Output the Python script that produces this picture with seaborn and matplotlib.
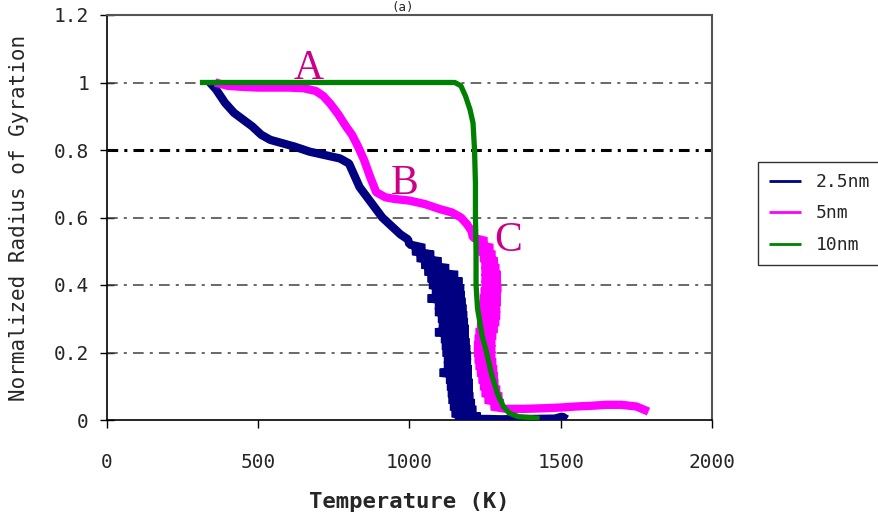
import numpy as np
import pandas as pd
import matplotlib
matplotlib.use("Agg")
import matplotlib.pyplot as plt
import seaborn as sns

# values (the noisy lower parts are traced
# as a back-and-forth path between the left and right edge of the band)
t_25 = [340, 360, 390, 420, 450, 480, 510, 540, 580, 620, 670, 720, 770, 800, 815, 835, 860, 885,
        910, 940, 970, 995,
        1000, 1050, 1010, 1080, 1025, 1105, 1040, 1130, 1050, 1160, 1060, 1175, 1065, 1180,
        1075, 1182, 1060, 1185, 1085, 1188, 1085, 1190, 1095, 1192, 1098, 1195, 1085, 1195,
        1105, 1198, 1108, 1200, 1110, 1202, 1115, 1202, 1115, 1205, 1100, 1205, 1122, 1208,
        1125, 1208, 1128, 1210, 1130, 1215, 1135, 1220, 1140, 1235, 1150, 1245,
        1260, 1300, 1400, 1480, 1505, 1520]
r_25 = [1.0, 0.98, 0.94, 0.91, 0.89, 0.87, 0.845, 0.83, 0.82, 0.81, 0.795, 0.785, 0.775, 0.76, 0.73,
        0.69, 0.66, 0.63, 0.60, 0.575, 0.55, 0.535,
        0.52, 0.51, 0.50, 0.49, 0.48, 0.47, 0.46, 0.45, 0.44, 0.43, 0.42, 0.41, 0.40, 0.39,
        0.38, 0.37, 0.36, 0.35, 0.34, 0.33, 0.32, 0.31, 0.30, 0.29, 0.28, 0.27, 0.26, 0.25,
        0.24, 0.23, 0.22, 0.21, 0.20, 0.19, 0.18, 0.17, 0.16, 0.15, 0.14, 0.13, 0.12, 0.11,
        0.10, 0.09, 0.08, 0.07, 0.06, 0.05, 0.04, 0.03, 0.02, 0.01, 0.005, 0.003,
        0.003, 0.002, 0.003, 0.004, 0.01, 0.002]

t_5 = [357, 400, 450, 500, 550, 600, 650, 690, 715, 740, 765, 790, 810, 830, 850, 870, 890, 920,
       950, 1000, 1050, 1100, 1140, 1170, 1190, 1205,
       1210, 1255, 1220, 1275, 1230, 1282, 1235, 1290, 1240, 1295, 1240, 1300, 1240, 1300,
       1240, 1302, 1237, 1300, 1235, 1300, 1233, 1298, 1230, 1298, 1230, 1295, 1225, 1290,
       1220, 1285, 1217, 1282, 1215, 1282, 1215, 1282, 1217, 1285, 1220, 1288, 1225, 1290,
       1230, 1292, 1235, 1298, 1240, 1305, 1250, 1310, 1270,
       1320, 1380, 1450, 1500, 1550, 1600, 1650, 1700, 1750, 1790]
r_5 = [1.0, 0.99, 0.987, 0.985, 0.985, 0.985, 0.983, 0.975, 0.96, 0.935, 0.905, 0.87, 0.845, 0.81,
       0.77, 0.72, 0.675, 0.66, 0.655, 0.65, 0.64, 0.625, 0.615, 0.60, 0.58, 0.56,
       0.54, 0.53, 0.52, 0.51, 0.50, 0.49, 0.48, 0.47, 0.46, 0.45, 0.44, 0.43, 0.42, 0.41,
       0.40, 0.39, 0.38, 0.37, 0.36, 0.35, 0.34, 0.33, 0.32, 0.31, 0.30, 0.29, 0.28, 0.27,
       0.26, 0.25, 0.24, 0.23, 0.22, 0.21, 0.20, 0.19, 0.18, 0.17, 0.16, 0.15, 0.14, 0.13,
       0.12, 0.11, 0.10, 0.09, 0.08, 0.07, 0.06, 0.05, 0.04,
       0.033, 0.033, 0.035, 0.037, 0.04, 0.042, 0.045, 0.045, 0.04, 0.025]

t_10 = [307, 400, 500, 600, 700, 800, 900, 1000, 1100, 1150, 1170, 1185, 1200, 1210, 1215, 1218,
        1218, 1220, 1220, 1225, 1240, 1255, 1270, 1290, 1310, 1330, 1360, 1430]
r_10 = [1.0, 1.0, 1.0, 1.0, 1.0, 1.0, 1.0, 1.0, 1.0, 1.0, 0.99, 0.96, 0.92, 0.88, 0.80, 0.70,
        0.60, 0.50, 0.40, 0.33, 0.25, 0.20, 0.14, 0.08, 0.04, 0.02, 0.01, 0.005]

series_names = ["2.5nm", "5nm", "10nm"]
series_colors = ["#000080", "#FF00FF", "#008000"]
series_widths = [6, 6, 3.8]

grid_levels = [0.2, 0.4, 0.6, 1.0]
y_ticks = [0, 0.2, 0.4, 0.6, 0.8, 1.0, 1.2]
y_tick_labels = ["0", "0.2", "0.4", "0.6", "0.8", "1", "1.2"]
x_ticks = [0, 500, 1000, 1500, 2000]

point_names = ["A", "B", "C"]
point_t = [665, 985, 1326]
point_r = [1.04, 0.70, 0.53]

sns.set_style("white")
plt.rcParams['font.family'] = ['DejaVu Sans Mono']

fig = plt.figure(figsize=(8.79, 5.21), dpi=100)
ax = fig.add_axes([107 / 879, 1 - 420 / 521, 605 / 879, 405 / 521])

# dash-dot gridlines, the 0.8 one heavier and black
for lvl in grid_levels:
    ax.axhline(lvl, color="#404040", lw=1.1, linestyle=(0, (7, 4, 2, 4)), zorder=1)
ax.axhline(0.8, color="black", lw=2.2, linestyle=(0, (3.5, 2, 1, 2)), zorder=1)

data = [(t_25, r_25), (t_5, r_5), (t_10, r_10)]
for (t, r), name, col, lw in zip(data, series_names, series_colors, series_widths):
    df = pd.DataFrame({"Temperature": t, "Rg": r})
    sns.lineplot(data=df, x="Temperature", y="Rg", sort=False, estimator=None,
                 color=col, lw=lw, label=name, ax=ax, zorder=3,
                 solid_joinstyle="bevel", solid_capstyle="butt")

for name, t, r in zip(point_names, point_t, point_r):
    ax.text(t, r, name, color="#CC0088", fontsize=30, family="Liberation Serif",
            ha="center", va="center", zorder=4)

ax.set_xlim(0, 2000)
ax.set_ylim(0, 1.2)
ax.set_xticks(x_ticks)
ax.set_xticklabels([str(v) for v in x_ticks])
ax.set_yticks(y_ticks)
ax.set_yticklabels(y_tick_labels)
ax.tick_params(axis="x", direction="out", length=6, width=1, labelsize=14, pad=18, color="black")
ax.tick_params(axis="y", direction="inout", length=10, width=1, labelsize=14, pad=8, color="black")
ax.xaxis.set_ticks_position("bottom")
ax.yaxis.set_ticks_position("left")

ax.set_xlabel("Temperature (K)", fontsize=16, fontweight="bold", labelpad=14)
ax.set_ylabel("Normalized Radius of Gyration", fontsize=15, labelpad=18)

for s in ["left", "bottom"]:
    ax.spines[s].set_color("black")
    ax.spines[s].set_linewidth(1.2)
for s in ["top", "right"]:
    ax.spines[s].set_color("#555555")
    ax.spines[s].set_linewidth(1.5)

leg = ax.legend(loc="upper left", bbox_to_anchor=(758 / 879, 1 - 162 / 521),
                bbox_transform=fig.transFigure, borderaxespad=0, fontsize=13,
                handlelength=1.8, labelspacing=0.75, frameon=True, fancybox=False,
                borderpad=0.6)
leg.get_frame().set_edgecolor("black")
leg.get_frame().set_linewidth(1.0)
for h in leg.get_lines():
    h.set_linewidth(2)

# panel title, squeezed into the strip above the plot area
fig.text(403 / 879, 1 - 1 / 521, "(a)", fontsize=9, ha="center", va="top")

fig.savefig("out.png", dpi=100)
